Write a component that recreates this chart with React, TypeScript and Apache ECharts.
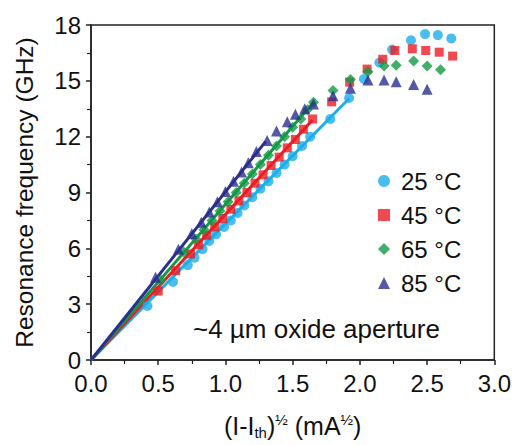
import React, { useEffect, useRef } from "react";
import * as echarts from "echarts";

const seriesNames = ["25 °C", "45 °C", "65 °C", "85 °C"];
const colors = ["#1BAEEA", "#EC1C24", "#129A45", "#2B2F8E"];
const symbols = ["circle", "rect", "diamond", "triangle"];
const symbolSizes = [10, 9, 11, 11];

const data25: number[][] = [
  [0.42, 2.9], [0.61, 4.2], [0.72, 5.1], [0.77, 5.5], [0.83, 5.95], [0.88, 6.4],
  [0.93, 6.75], [0.99, 7.15], [1.04, 7.5], [1.09, 7.9], [1.14, 8.3], [1.2, 8.75],
  [1.26, 9.2], [1.32, 9.6], [1.38, 10.05], [1.44, 10.5], [1.5, 10.95], [1.57, 11.5],
  [1.63, 12.0], [1.78, 12.95], [1.92, 14.08], [2.03, 15.1], [2.145, 15.98],
  [2.24, 16.68], [2.38, 17.18], [2.485, 17.51], [2.58, 17.46], [2.68, 17.28],
];
const data45: number[][] = [
  [0.5, 3.7], [0.63, 4.8], [0.74, 5.7], [0.8, 6.2], [0.86, 6.7], [0.92, 7.15],
  [0.98, 7.6], [1.04, 8.1], [1.1, 8.55], [1.16, 9.0], [1.22, 9.5], [1.28, 9.95],
  [1.34, 10.45], [1.4, 10.9], [1.46, 11.4], [1.52, 11.85], [1.58, 12.4], [1.648, 12.95],
  [1.79, 13.87], [1.924, 14.93], [2.054, 15.63], [2.17, 16.16], [2.26, 16.63],
  [2.39, 16.72], [2.49, 16.63], [2.59, 16.54], [2.69, 16.33],
];
const data65: number[][] = [
  [0.52, 4.3], [0.69, 5.8], [0.78, 6.5], [0.84, 7.0], [0.9, 7.5], [0.96, 8.0],
  [1.02, 8.5], [1.08, 9.0], [1.14, 9.5], [1.2, 10.0], [1.26, 10.5], [1.32, 11.0],
  [1.38, 11.5], [1.44, 12.0], [1.5, 12.5], [1.56, 12.95], [1.61, 13.45], [1.655, 13.85],
  [1.8, 14.48], [1.93, 15.07], [2.06, 15.49], [2.18, 15.8], [2.27, 15.84],
  [2.4, 16.07], [2.5, 15.8], [2.6, 15.59],
];
const data85: number[][] = [
  [0.48, 4.45], [0.65, 5.95], [0.75, 6.8], [0.82, 7.4], [0.88, 7.95], [0.94, 8.5],
  [1.0, 9.05], [1.06, 9.6], [1.12, 10.1], [1.17, 10.6], [1.23, 11.2], [1.31, 11.8],
  [1.38, 12.3], [1.46, 12.8], [1.52, 13.2], [1.59, 13.5], [1.655, 13.75],
  [1.8, 14.2], [1.93, 14.6], [2.06, 15.05], [2.18, 15.05], [2.27, 14.95],
  [2.4, 14.8], [2.5, 14.55],
];
const allData = [data25, data45, data65, data85];

// linear fits through the origin: [x_end, y_end]
const fitEnds: number[][] = [
  [1.92, 14.05],
  [1.648, 12.9],
  [1.655, 13.85],
  [1.3, 11.75],
];

const FONT = "'Liberation Sans', Arial, Helvetica, sans-serif";

export default function App() {
  const ref = useRef<HTMLDivElement>(null);
  useEffect(() => {
    if (!ref.current) return;
    const chart = echarts.init(ref.current, undefined, { renderer: "svg" });
    const series: any[] = [];
    fitEnds.forEach((end, i) => {
      series.push({
        name: "fit" + i,
        type: "line",
        data: [[0, 0], end],
        showSymbol: false,
        symbol: "none",
        lineStyle: { color: colors[i], width: 3 },
        z: 2,
        silent: true,
      });
    });
    allData.forEach((d, i) => {
      series.push({
        name: seriesNames[i],
        type: "scatter",
        data: d,
        symbol: symbols[i],
        symbolSize: symbolSizes[i],
        itemStyle: { color: colors[i] },
        z: 3,
      });
    });
    chart.setOption({
      animation: false,
      textStyle: { fontFamily: FONT },
      grid: {
        left: 91, right: 16, top: 25, bottom: 79,
        show: true, borderColor: "#222", borderWidth: 1.5,
      },
      legend: {
        data: seriesNames,
        orient: "vertical",
        left: 373,
        top: 164,
        itemWidth: 12,
        itemHeight: 12,
        itemGap: 10,
        textStyle: { fontSize: 24, color: "#111", fontFamily: FONT, padding: [0, 0, 0, 6] },
      },
      xAxis: {
        type: "value",
        min: 0, max: 3, interval: 0.5,
        name: "(I-I{sub|th}){sup|½} (mA{sup|½})",
        nameLocation: "middle",
        nameGap: 52,
        nameTextStyle: {
          fontSize: 25, color: "#111", fontFamily: FONT,
          rich: {
            sub: { fontSize: 15, verticalAlign: "bottom", padding: [13, 0, 0, 0], color: "#111" },
            sup: { fontSize: 15, verticalAlign: "top", padding: [0, 0, 11, 0], color: "#111" },
          },
        },
        axisLine: { show: true, lineStyle: { color: "#222", width: 1.5 } },
        axisTick: { show: true, length: 5, inside: false, lineStyle: { color: "#222", width: 1.5 } },
        minorTick: { show: true, splitNumber: 2, length: 4, lineStyle: { color: "#222", width: 1.2 } },
        splitLine: { show: false },
        axisLabel: {
          fontSize: 24, color: "#111", margin: 11, fontFamily: FONT,
          formatter: (v: number) => v.toFixed(1),
        },
      },
      yAxis: {
        type: "value",
        min: 0, max: 18, interval: 3,
        name: "Resonance frequency (GHz)",
        nameLocation: "middle",
        nameGap: 54,
        nameTextStyle: { fontSize: 24.5, color: "#111", fontFamily: FONT },
        axisLine: { show: true, lineStyle: { color: "#222", width: 1.5 } },
        axisTick: { show: true, length: 5, inside: false, lineStyle: { color: "#222", width: 1.5 } },
        minorTick: { show: true, splitNumber: 2, length: 4, lineStyle: { color: "#222", width: 1.2 } },
        splitLine: { show: false },
        axisLabel: { fontSize: 24, color: "#111", margin: 10, fontFamily: FONT },
      },
      graphic: [
        {
          type: "text",
          left: 193,
          top: 316,
          style: { text: "~4 µm oxide aperture", fontSize: 26, fill: "#111", fontFamily: FONT },
        },
      ],
      series,
    });
    return () => chart.dispose();
  }, []);
  return <div ref={ref} style={{ width: 514, height: 445, position: "absolute", left: 0, top: 0 }} />;
}
